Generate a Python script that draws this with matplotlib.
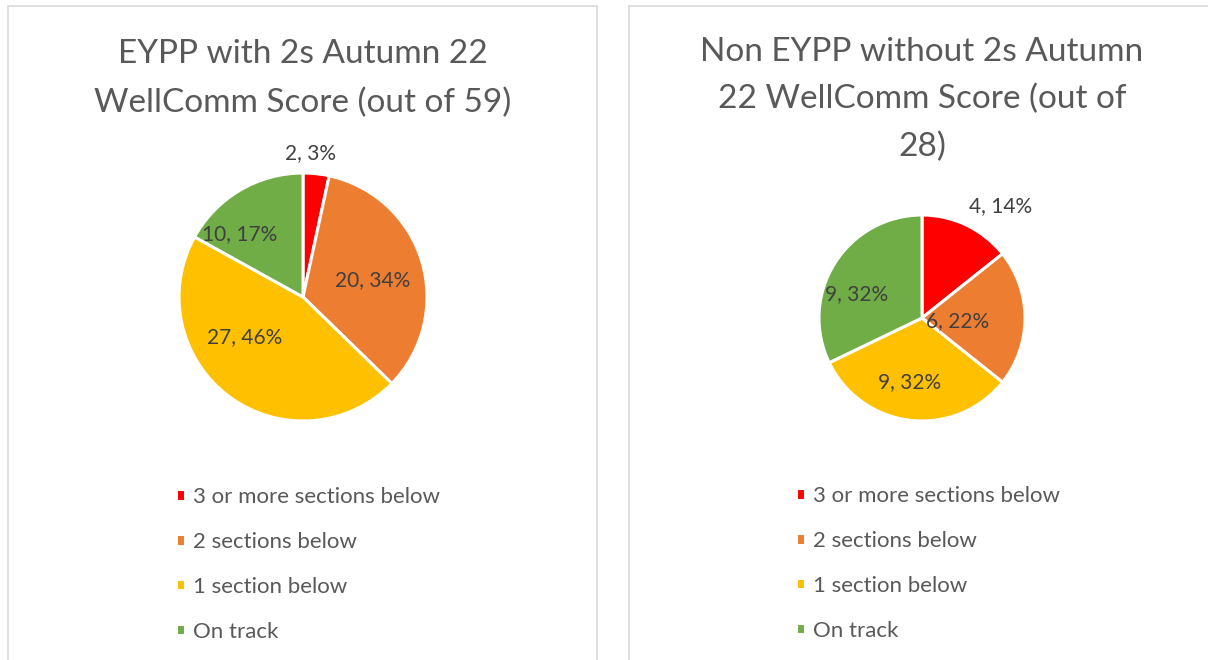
import matplotlib
matplotlib.use("Agg")
import matplotlib.pyplot as plt
from matplotlib.patches import Rectangle

# ---- data ----
categories = ["3 or more sections below", "2 sections below", "1 section below", "On track"]
left_title = "EYPP with 2s Autumn 22\nWellComm Score (out of 59)"
left_values = [2, 20, 27, 10]
left_pcts = [3, 34, 46, 17]
right_title = "Non EYPP without 2s Autumn\n22 WellComm Score (out of\n28)"
right_values = [4, 6, 9, 9]
right_pcts = [14, 22, 32, 32]

# ---- style ----
colors = ["#FF0000", "#ED7D31", "#FFC000", "#70AD47"]
FONT = "Lato"
W, H = 1208, 660
DPI = 100
title_color = "#595959"
label_color = "#404040"

fig = plt.figure(figsize=(W / DPI, H / DPI), dpi=DPI)
fig.patch.set_facecolor("white")

def px_axes(left, top, size):
    return fig.add_axes([left / W, (H - top - size) / H, size / W, size / H])

# panel borders
for (x0, x1) in [(8, 597), (629, 1215)]:
    fig.patches.append(Rectangle((x0 / W, -0.05), (x1 - x0) / W, (H - 6) / H + 0.05,
                                 transform=fig.transFigure, fill=False,
                                 edgecolor="#D9D9D9", linewidth=1.2))

def draw_pie(values, pcts, center, radius, label_pos, title, title_top, title_ls, legend_xy):
    cx, cy = center
    ax = px_axes(cx - radius, cy - radius, 2 * radius)
    wedges, _ = ax.pie(values, colors=colors, startangle=90, counterclock=False,
                       wedgeprops=dict(edgecolor="white", linewidth=2.2))
    ax.set_xlim(-1, 1)
    ax.set_ylim(-1, 1)
    ax.set_aspect("equal")
    ax.axis("off")
    for v, p, (lx, ly) in zip(values, pcts, label_pos):
        ax.text(lx, ly, f"{v}, {p}%", ha="center", va="center", fontsize=15,
                family=FONT, color=label_color, clip_on=False)
    fig.text(cx / W, 1 - title_top / H, title, ha="center", va="top", fontsize=24,
             family=FONT, color=title_color, linespacing=title_ls)
    lg = fig.legend(wedges, categories, loc="upper left",
                    bbox_to_anchor=(legend_xy[0] / W, 1 - legend_xy[1] / H),
                    frameon=False, prop=dict(family=FONT, size=16),
                    handlelength=0.4, handleheight=0.4, handletextpad=0.35,
                    labelspacing=1.12, borderpad=0, borderaxespad=0)
    for t in lg.get_texts():
        t.set_color(title_color)
    return ax

draw_pie(left_values, left_pcts, (303, 297), 124,
         [(0.06, 1.16), (0.56, 0.14), (-0.47, -0.32), (-0.51, 0.51)],
         left_title, 39, 1.75, (176, 487))
draw_pie(right_values, right_pcts, (922, 318), 103,
         [(0.76, 1.09), (0.35, -0.03), (-0.12, -0.62), (-0.64, 0.23)],
         right_title, 37, 1.7, (796, 486))

fig.savefig("out.png", dpi=DPI, facecolor="white")
